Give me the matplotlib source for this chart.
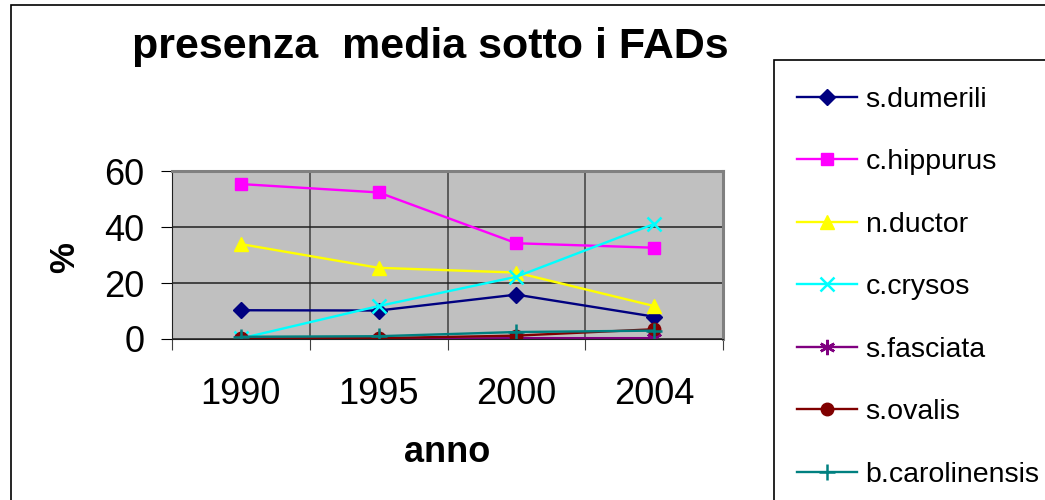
import matplotlib.pyplot as plt
from matplotlib.patches import Rectangle
from matplotlib.ticker import FixedLocator, NullFormatter
import numpy as np

plt.rcParams['font.family'] = ['Liberation Sans', 'DejaVu Sans']

# data
years = ['1990', '1995', '2000', '2004']
s_dumerili = [10.3, 10.2, 15.9, 8.0]
c_hippurus = [55.5, 52.5, 34.3, 32.7]
n_ductor = [34.0, 25.5, 23.8, 11.8]
c_crysos = [0.2, 11.8, 22.3, 41.2]
s_fasciata = [0.0, 0.0, 0.3, 0.3]
s_ovalis = [0.2, 0.3, 1.2, 3.5]
b_carolinensis = [0.8, 1.0, 2.5, 3.0]

series = [
    ('s.dumerili', s_dumerili, '#000080', 'D', 8),
    ('c.hippurus', c_hippurus, '#FF00FF', 's', 8.5),
    ('n.ductor', n_ductor, '#FFFF00', '^', 10),
    ('c.crysos', c_crysos, '#00FFFF', 'x', 10),
    ('s.fasciata', s_fasciata, '#800080', (6, 2, 0), 11),
    ('s.ovalis', s_ovalis, '#800000', 'o', 9),
    ('b.carolinensis', b_carolinensis, '#008080', '+', 12),
]

fig = plt.figure(figsize=(10.45, 5.0), dpi=100)
ax = fig.add_axes([172/1045, 1-339/500, (723-172)/1045, (339-171.5)/500])
ax.set_facecolor('#C0C0C0')

x = np.arange(len(years))
handles = []
for name, vals, col, mk, ms in series:
    h, = ax.plot(x, vals, color=col, lw=1.7, marker=mk, markersize=ms,
                 markeredgewidth=1.8 if mk in ('x', '+') or isinstance(mk, tuple) else 1,
                 markerfacecolor=col, markeredgecolor=col, label=name)
    handles.append(h)

ax.set_xlim(-0.5, len(years) - 0.5)
ax.set_ylim(0, 60)
ax.set_yticks([0, 20, 40, 60])
ax.yaxis.grid(True, color='#202020', lw=1.1)
# category boundaries as major ticks, labels on minor ticks
ax.xaxis.set_major_locator(FixedLocator(np.arange(-0.5, len(years), 1.0)))
ax.xaxis.set_major_formatter(NullFormatter())
ax.xaxis.set_minor_locator(FixedLocator(x))
ax.set_xticklabels(years, minor=True)
ax.xaxis.grid(True, which='major', color='#404040', lw=1.1)
ax.set_axisbelow(True)
ax.tick_params(axis='x', which='major', length=8, color='#404040')
ax.tick_params(axis='x', which='minor', length=0, pad=27, labelsize=26)
ax.tick_params(axis='y', length=8, pad=12, labelsize=26)

for s in ('top', 'right'):
    ax.spines[s].set_color('#808080')
    ax.spines[s].set_linewidth(2.2)
ax.spines['left'].set_color('#202020')
ax.spines['bottom'].set_color('#202020')

fig.text(430/1045, 1-47/500, 'presenza  media sotto i FADs', fontsize=31,
         fontweight='bold', ha='center', va='center')
fig.text(447/1045, 1-452/500, 'anno', fontsize=26, fontweight='bold',
         ha='center', va='center')
fig.text(65/1045, 1-258/500, '%', fontsize=25, fontweight='bold',
         ha='center', va='center', rotation=90)

# chart border and legend box
fig.patches.append(Rectangle((11/1045, -0.1), 1.2, 1-5/500+0.1, transform=fig.transFigure,
                             fill=False, edgecolor='black', lw=1.2))
fig.patches.append(Rectangle((774/1045, -0.1), 1.0, 1-60/500+0.1, transform=fig.transFigure,
                             facecolor='white', edgecolor='black', lw=1.2))

leg = fig.legend(handles=handles, loc='upper left', bbox_to_anchor=(797/1045, 1-87/500),
                 frameon=False, fontsize=20.5, handlelength=2.1, handletextpad=0.3,
                 labelspacing=1.28, borderaxespad=0, borderpad=0)

fig.savefig('out.png', dpi=100)
